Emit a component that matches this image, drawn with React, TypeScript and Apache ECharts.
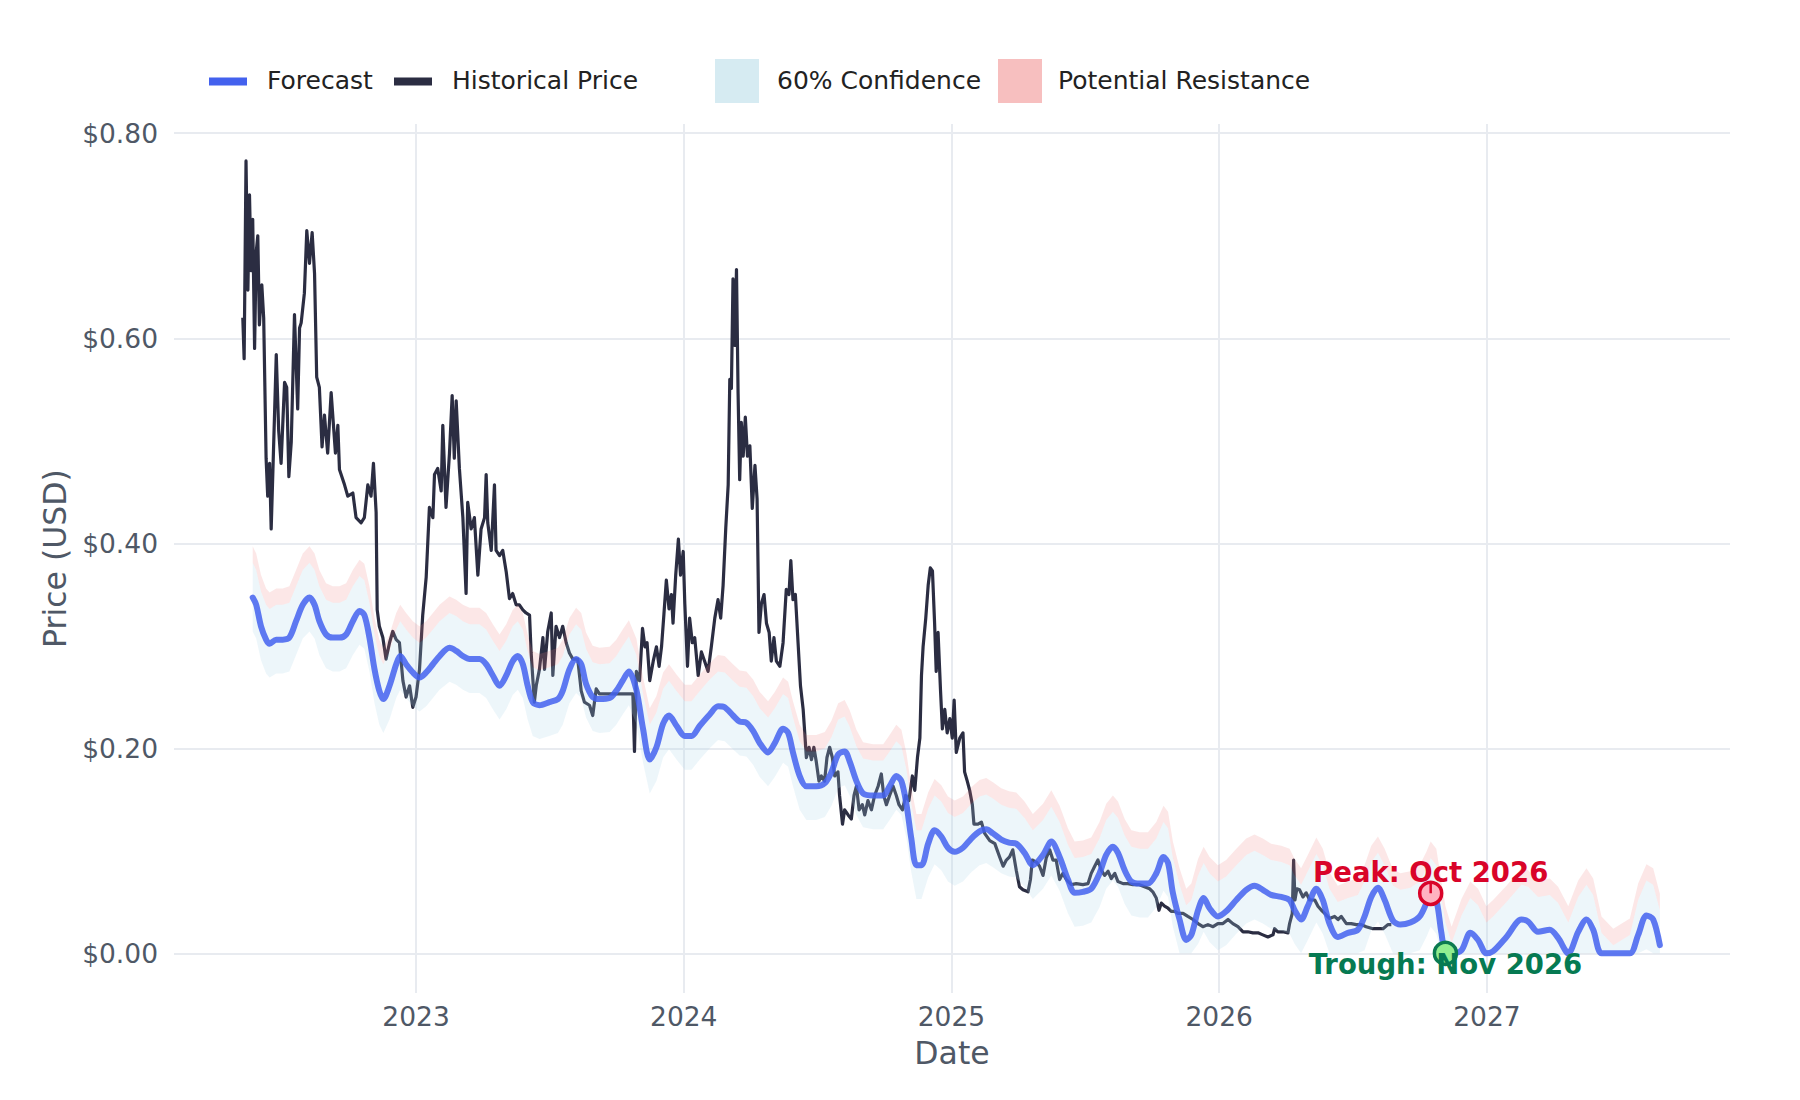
import React, { useEffect, useRef } from 'react';
import * as echarts from 'echarts';

// ---------------- Data (decimal years) ----------------
const histYears = [
  2022.353,2022.358,2022.365,2022.372,2022.378,2022.384,2022.390,2022.397,2022.403,2022.409,
  2022.415,2022.424,2022.431,2022.440,2022.446,2022.453,2022.459,2022.465,2022.478,2022.487,
  2022.496,2022.509,2022.517,2022.525,2022.534,2022.546,2022.558,2022.565,2022.571,2022.583,
  2022.592,2022.602,2022.612,2022.621,2022.629,2022.639,2022.649,2022.658,2022.670,2022.683,
  2022.699,2022.708,2022.714,2022.733,2022.745,2022.764,2022.776,2022.795,2022.807,2022.820,
  2022.832,2022.841,2022.851,2022.855,2022.863,2022.876,2022.888,2022.901,2022.913,2022.926,
  2022.938,2022.951,2022.963,2022.976,2022.988,2023.000,2023.013,2023.025,2023.038,2023.050,
  2023.063,2023.069,2023.081,2023.094,2023.100,2023.112,2023.125,2023.135,2023.143,2023.150,
  2023.162,2023.175,2023.187,2023.193,2023.206,2023.218,2023.231,2023.243,2023.256,2023.262,
  2023.268,2023.281,2023.293,2023.299,2023.312,2023.324,2023.337,2023.349,2023.361,2023.374,
  2023.386,2023.399,2023.411,2023.424,2023.430,2023.442,2023.449,2023.461,2023.474,2023.480,
  2023.492,2023.505,2023.511,2023.523,2023.536,2023.548,2023.561,2023.573,2023.586,2023.604,
  2023.617,2023.629,2023.648,2023.660,2023.673,2023.685,2023.810,2023.816,
  2023.823,2023.835,2023.846,2023.855,2023.863,2023.873,2023.886,2023.898,2023.908,2023.917,
  2023.926,2023.935,2023.945,2023.954,2023.960,2023.970,2023.980,2023.988,2023.998,2024.004,
  2024.014,2024.022,2024.032,2024.041,2024.054,2024.066,2024.078,2024.091,2024.103,2024.116,
  2024.128,2024.138,2024.147,2024.157,2024.166,2024.172,2024.178,2024.184,2024.191,2024.197,
  2024.203,2024.209,2024.215,2024.222,2024.230,2024.238,2024.247,2024.256,2024.266,2024.274,
  2024.281,2024.290,2024.300,2024.309,2024.319,2024.327,2024.337,2024.346,2024.359,2024.371,
  2024.383,2024.393,2024.400,2024.408,2024.417,2024.427,2024.436,2024.446,2024.452,2024.458,
  2024.468,2024.477,2024.486,2024.495,2024.505,2024.514,2024.526,2024.535,2024.545,2024.555,
  2024.564,2024.576,2024.582,2024.593,2024.601,2024.614,2024.626,2024.636,2024.645,2024.655,
  2024.667,2024.676,2024.688,2024.701,2024.713,2024.726,2024.738,2024.747,2024.757,2024.769,
  2024.782,2024.794,2024.804,2024.817,2024.829,2024.841,2024.854,2024.863,2024.873,2024.882,
  2024.888,2024.894,2024.904,2024.913,2024.921,2024.929,2024.937,2024.943,2024.950,2024.959,
  2024.966,2024.975,2024.984,2024.994,2025.003,2025.010,2025.018,2025.031,2025.043,2025.049,
  2025.059,2025.068,2025.078,2025.084,2025.099,2025.112,2025.124,2025.143,2025.162,
  2025.180,2025.193,2025.205,2025.217,2025.229,2025.242,2025.254,2025.267,2025.286,2025.295,
  2025.302,2025.317,2025.329,2025.342,2025.354,2025.367,2025.379,2025.391,2025.404,2025.416,
  2025.429,2025.448,2025.466,2025.491,2025.510,2025.522,2025.535,2025.547,2025.560,2025.572,
  2025.585,2025.597,2025.610,2025.622,2025.641,2025.659,2025.678,2025.702,2025.721,2025.740,
  2025.752,2025.765,2025.775,2025.784,2025.796,2025.809,2025.821,2025.834,2025.846,2025.865,
  2025.883,2025.902,2025.921,2025.939,2025.958,2025.977,2025.995,2026.014,2026.033,2026.051,
  2026.070,2026.089,2026.107,2026.126,2026.145,2026.163,2026.182,2026.201,2026.207,2026.219,
  2026.238,2026.257,2026.263,2026.273,2026.278,2026.283,2026.290,2026.300,2026.313,2026.325,
  2026.338,2026.357,2026.369,2026.382,2026.394,2026.412,2026.431,2026.444,2026.456,2026.475,
  2026.493,2026.512,2026.531,2026.549,2026.574,2026.593,2026.612,2026.630,2026.643,
];
const histPrices = [
  0.62,0.58,0.773,0.647,0.74,0.666,0.716,0.59,0.684,0.70,
  0.613,0.652,0.62,0.483,0.446,0.478,0.414,0.467,0.584,0.51,
  0.478,0.557,0.552,0.465,0.499,0.623,0.531,0.61,0.615,0.644,
  0.705,0.673,0.703,0.663,0.562,0.552,0.494,0.525,0.488,0.547,
  0.488,0.515,0.472,0.457,0.446,0.449,0.425,0.42,0.425,0.457,
  0.446,0.478,0.43,0.335,0.319,0.308,0.287,0.303,0.314,0.306,
  0.303,0.266,0.25,0.261,0.24,0.25,0.277,0.33,0.367,0.435,
  0.425,0.467,0.473,0.451,0.515,0.435,0.488,0.544,0.483,0.539,
  0.473,0.425,0.351,0.44,0.414,0.425,0.369,0.414,0.425,0.467,
  0.42,0.393,0.457,0.393,0.388,0.393,0.372,0.346,0.351,0.34,
  0.34,0.335,0.332,0.33,0.293,0.245,0.261,0.277,0.308,0.277,
  0.314,0.332,0.271,0.319,0.308,0.319,0.303,0.293,0.287,0.287,
  0.256,0.245,0.242,0.232,0.258,0.253,0.253,0.197,
  0.275,0.266,0.317,0.299,0.303,0.266,0.285,0.299,0.28,0.299,
  0.331,0.364,0.336,0.35,0.322,0.369,0.404,0.369,0.392,0.341,
  0.28,0.327,0.303,0.308,0.271,0.294,0.285,0.275,0.299,0.327,
  0.345,0.327,0.359,0.415,0.457,0.56,0.551,0.658,0.593,0.667,
  0.546,0.462,0.518,0.485,0.523,0.485,0.495,0.434,0.476,0.443,
  0.313,0.341,0.35,0.322,0.313,0.285,0.308,0.285,0.28,0.303,
  0.355,0.35,0.383,0.345,0.35,0.303,0.261,0.238,0.215,0.191,
  0.201,0.189,0.201,0.187,0.168,0.173,0.168,0.191,0.201,0.191,
  0.173,0.177,0.154,0.126,0.14,0.135,0.131,0.154,0.163,0.14,
  0.145,0.135,0.149,0.14,0.154,0.163,0.175,0.154,0.145,0.154,
  0.163,0.154,0.145,0.14,0.154,0.149,0.173,0.159,0.191,0.21,
  0.271,0.299,0.327,0.359,0.376,0.373,0.322,0.275,0.313,0.257,
  0.219,0.238,0.215,0.229,0.21,0.247,0.196,0.21,0.215,0.177,
  0.168,0.159,0.145,0.126,0.126,0.128,0.117,0.11,0.107,
  0.094,0.085,0.091,0.094,0.101,0.081,0.065,0.062,0.06,0.072,
  0.091,0.089,0.085,0.076,0.093,0.101,0.091,0.091,0.072,0.078,
  0.072,0.067,0.068,0.067,0.068,0.078,0.085,0.091,0.081,0.076,
  0.08,0.073,0.078,0.07,0.068,0.068,0.067,0.067,0.065,0.063,
  0.06,0.054,0.042,0.049,0.046,0.044,0.041,0.041,0.039,0.039,
  0.036,0.033,0.029,0.026,0.028,0.026,0.029,0.029,0.033,0.029,
  0.026,0.021,0.021,0.02,0.02,0.018,0.016,0.018,0.024,0.021,
  0.021,0.02,0.029,0.039,0.091,0.052,0.063,0.062,0.055,0.059,
  0.052,0.052,0.046,0.042,0.039,0.034,0.036,0.033,0.036,0.029,
  0.029,0.028,0.028,0.026,0.024,0.024,0.024,0.028,0.028,
];

const fcYears = [
  2022.390,2022.403,2022.421,2022.440,2022.453,2022.478,2022.502,2022.527,2022.552,2022.577,
  2022.602,2022.621,2022.639,2022.664,2022.689,2022.714,2022.739,2022.764,2022.789,2022.807,
  2022.826,2022.845,2022.863,2022.878,2022.901,2022.926,2022.941,2022.963,2022.988,2023.013,
  2023.038,2023.063,2023.088,2023.125,2023.150,2023.175,2023.200,2023.237,2023.262,2023.287,
  2023.312,2023.337,2023.361,2023.380,2023.399,2023.417,2023.436,2023.461,2023.498,2023.530,
  2023.548,2023.573,2023.598,2023.617,2023.635,2023.660,2023.685,2023.723,2023.748,2023.772,
  2023.795,2023.823,2023.848,2023.873,2023.898,2023.923,2023.945,2023.973,2024.004,2024.029,
  2024.060,2024.097,2024.128,2024.153,2024.184,2024.209,2024.234,2024.259,2024.284,2024.315,
  2024.340,2024.371,2024.390,2024.408,2024.433,2024.458,2024.495,2024.527,2024.552,2024.577,
  2024.601,2024.620,2024.645,2024.670,2024.707,2024.745,2024.769,2024.794,2024.813,2024.832,
  2024.850,2024.869,2024.888,2024.913,2024.937,2024.962,2024.987,2025.012,2025.043,2025.074,
  2025.105,2025.130,2025.155,2025.186,2025.215,2025.242,2025.273,2025.304,2025.342,2025.373,
  2025.404,2025.435,2025.460,2025.491,2025.522,2025.553,2025.578,2025.603,2025.622,2025.647,
  2025.672,2025.703,2025.734,2025.765,2025.792,2025.809,2025.827,2025.852,2025.877,2025.896,
  2025.921,2025.942,2025.964,2025.995,2026.026,2026.064,2026.101,2026.132,2026.163,2026.194,
  2026.232,2026.263,2026.282,2026.306,2026.331,2026.363,2026.387,2026.412,2026.443,2026.481,
  2026.518,2026.543,2026.568,2026.593,2026.618,2026.649,2026.677,2026.714,2026.749,2026.774,
  2026.790,2026.811,2026.830,2026.845,2026.868,2026.905,2026.938,2026.967,2026.998,2027.023,
  2027.073,2027.129,2027.154,2027.191,2027.235,2027.266,2027.304,2027.341,2027.372,2027.397,
  2027.428,2027.472,2027.534,2027.565,2027.596,2027.621,2027.646,
];
const fcPrices = [
  0.347,0.340,0.319,0.306,0.302,0.306,0.306,0.308,0.324,0.340,
  0.347,0.340,0.324,0.311,0.308,0.308,0.311,0.324,0.334,0.330,
  0.308,0.277,0.256,0.248,0.261,0.282,0.290,0.282,0.274,0.269,
  0.274,0.282,0.290,0.298,0.295,0.290,0.287,0.287,0.282,0.271,
  0.261,0.271,0.285,0.290,0.282,0.261,0.245,0.242,0.245,0.248,
  0.256,0.277,0.287,0.282,0.263,0.250,0.248,0.249,0.256,0.266,
  0.275,0.257,0.219,0.189,0.201,0.224,0.232,0.222,0.212,0.212,
  0.222,0.233,0.241,0.240,0.232,0.226,0.225,0.217,0.205,0.196,
  0.205,0.219,0.215,0.196,0.173,0.163,0.163,0.166,0.177,0.194,
  0.197,0.187,0.168,0.156,0.154,0.154,0.163,0.173,0.168,0.145,
  0.112,0.086,0.086,0.107,0.120,0.114,0.103,0.099,0.103,0.112,
  0.119,0.121,0.117,0.111,0.108,0.107,0.098,0.086,0.096,0.109,
  0.094,0.072,0.059,0.060,0.063,0.078,0.096,0.104,0.098,0.081,
  0.070,0.068,0.068,0.078,0.094,0.088,0.059,0.033,0.013,0.018,
  0.042,0.054,0.044,0.036,0.041,0.052,0.062,0.066,0.062,0.057,
  0.055,0.052,0.042,0.033,0.046,0.063,0.052,0.029,0.016,0.020,
  0.023,0.036,0.055,0.064,0.052,0.032,0.028,0.030,0.036,0.049,
  0.059,0.052,0.020,0.001,0.000,0.003,0.020,0.013,0.000,0.002,
  0.016,0.033,0.031,0.021,0.023,0.015,0.000,0.021,0.033,0.023,
  0.000,0.000,0.000,0.018,0.037,0.033,0.008,
];
const confLow = [
  0.314,0.307,0.286,0.273,0.269,0.273,0.273,0.275,0.291,0.307,
  0.314,0.307,0.291,0.278,0.275,0.275,0.278,0.291,0.301,0.297,
  0.275,0.244,0.223,0.215,0.228,0.249,0.257,0.249,0.241,0.236,
  0.241,0.249,0.257,0.265,0.262,0.257,0.254,0.254,0.249,0.238,
  0.228,0.238,0.252,0.257,0.249,0.228,0.212,0.209,0.212,0.215,
  0.223,0.244,0.254,0.249,0.230,0.217,0.215,0.216,0.223,0.233,
  0.242,0.224,0.186,0.156,0.168,0.191,0.199,0.189,0.179,0.179,
  0.189,0.200,0.208,0.207,0.199,0.193,0.192,0.184,0.172,0.163,
  0.172,0.186,0.182,0.163,0.140,0.130,0.130,0.133,0.144,0.161,
  0.164,0.154,0.135,0.123,0.121,0.121,0.130,0.140,0.135,0.112,
  0.079,0.053,0.053,0.074,0.087,0.081,0.070,0.066,0.070,0.079,
  0.086,0.088,0.084,0.078,0.075,0.074,0.065,0.053,0.063,0.076,
  0.061,0.039,0.026,0.027,0.030,0.045,0.063,0.071,0.065,0.048,
  0.037,0.035,0.035,0.045,0.061,0.055,0.026,0.000,0.000,0.000,
  0.009,0.021,0.011,0.003,0.008,0.019,0.029,0.033,0.029,0.024,
  0.022,0.019,0.009,0.000,0.013,0.030,0.019,0.000,0.000,0.000,
  0.000,0.003,0.022,0.031,0.019,0.000,0.000,0.000,0.003,0.016,
  0.026,0.019,0.000,0.000,0.000,0.000,0.000,0.000,0.000,0.000,
  0.000,0.000,0.000,0.000,0.000,0.000,0.000,0.000,0.000,0.000,
  0.000,0.000,0.000,0.000,0.004,0.000,0.000,
];
const confHigh = [
  0.381,0.374,0.353,0.340,0.336,0.340,0.340,0.342,0.358,0.374,
  0.381,0.374,0.358,0.345,0.342,0.342,0.345,0.358,0.368,0.364,
  0.342,0.311,0.290,0.282,0.295,0.316,0.324,0.316,0.308,0.303,
  0.308,0.316,0.324,0.332,0.329,0.324,0.321,0.321,0.316,0.305,
  0.295,0.305,0.319,0.324,0.316,0.295,0.279,0.276,0.279,0.282,
  0.290,0.311,0.321,0.316,0.297,0.284,0.282,0.283,0.290,0.300,
  0.309,0.291,0.253,0.223,0.235,0.258,0.266,0.256,0.246,0.246,
  0.256,0.267,0.275,0.274,0.266,0.260,0.259,0.251,0.239,0.230,
  0.239,0.253,0.249,0.230,0.207,0.197,0.197,0.200,0.211,0.228,
  0.231,0.221,0.202,0.190,0.188,0.188,0.197,0.207,0.202,0.179,
  0.146,0.120,0.120,0.141,0.154,0.148,0.137,0.133,0.137,0.146,
  0.153,0.155,0.151,0.145,0.142,0.141,0.132,0.120,0.130,0.143,
  0.128,0.106,0.093,0.094,0.097,0.112,0.130,0.138,0.132,0.115,
  0.104,0.102,0.102,0.112,0.128,0.122,0.093,0.067,0.047,0.052,
  0.076,0.088,0.078,0.070,0.075,0.086,0.096,0.100,0.096,0.091,
  0.089,0.086,0.076,0.067,0.080,0.097,0.086,0.063,0.050,0.054,
  0.057,0.070,0.089,0.098,0.086,0.066,0.062,0.064,0.070,0.083,
  0.093,0.086,0.054,0.030,0.010,0.037,0.054,0.047,0.030,0.036,
  0.050,0.067,0.065,0.055,0.057,0.049,0.030,0.055,0.067,0.057,
  0.020,0.008,0.018,0.052,0.071,0.067,0.042,
];
const resistHigh = [
  0.397,0.390,0.369,0.356,0.352,0.356,0.356,0.358,0.374,0.390,
  0.397,0.390,0.374,0.361,0.358,0.358,0.361,0.374,0.384,0.380,
  0.358,0.327,0.306,0.298,0.311,0.332,0.340,0.332,0.324,0.319,
  0.324,0.332,0.340,0.348,0.345,0.340,0.337,0.337,0.332,0.321,
  0.311,0.321,0.335,0.340,0.332,0.311,0.295,0.292,0.295,0.298,
  0.306,0.327,0.337,0.332,0.313,0.300,0.298,0.299,0.306,0.316,
  0.325,0.307,0.269,0.239,0.251,0.274,0.282,0.272,0.262,0.262,
  0.272,0.283,0.291,0.290,0.282,0.276,0.275,0.267,0.255,0.246,
  0.255,0.269,0.265,0.246,0.223,0.213,0.213,0.216,0.227,0.244,
  0.247,0.237,0.218,0.206,0.204,0.204,0.213,0.223,0.218,0.195,
  0.162,0.136,0.136,0.157,0.170,0.164,0.153,0.149,0.153,0.162,
  0.169,0.171,0.167,0.161,0.158,0.157,0.148,0.136,0.146,0.159,
  0.144,0.122,0.109,0.110,0.113,0.128,0.146,0.154,0.148,0.131,
  0.120,0.118,0.118,0.128,0.144,0.138,0.109,0.083,0.063,0.068,
  0.092,0.104,0.094,0.086,0.091,0.102,0.112,0.116,0.112,0.107,
  0.105,0.102,0.092,0.083,0.096,0.113,0.102,0.079,0.066,0.070,
  0.073,0.086,0.105,0.114,0.102,0.082,0.078,0.080,0.086,0.099,
  0.109,0.102,0.070,0.046,0.026,0.053,0.070,0.063,0.046,0.052,
  0.066,0.083,0.081,0.071,0.073,0.065,0.046,0.071,0.083,0.073,
  0.036,0.024,0.034,0.068,0.087,0.083,0.058,
];

const peakPoint = [2026.790, 0.0585];
const troughPoint = [2026.845, 0.0];
const peakLabel = 'Peak: Oct 2026';
const troughLabel = 'Trough: Nov 2026';
const legendNames = ['Forecast', 'Historical Price', '60% Confidence', 'Potential Resistance'];

const FONT = 'DejaVu Sans';
const AXIS_COLOR = '#4f5866';
const CONF_FILL = 'rgba(173,216,230,0.22)';
const RES_FILL = 'rgba(240,128,128,0.19)';

export default function App() {
  const ref = useRef<HTMLDivElement>(null);

  useEffect(() => {
    if (!ref.current) return;
    const chart = echarts.init(ref.current, null, { renderer: 'svg' });

    const hist = histYears.map((x, i) => [x, histPrices[i]]);
    const fc = fcYears.map((x, i) => [x, fcPrices[i]]);

    const renderBands = (params: any, api: any) => {
      if (params.dataIndex !== 0) return null;
      const lo = fcYears.map((x, i) => api.coord([x, confLow[i]]));
      const hi = fcYears.map((x, i) => api.coord([x, confHigh[i]]));
      const rs = fcYears.map((x, i) => api.coord([x, resistHigh[i]]));
      return {
        type: 'group',
        children: [
          { type: 'polygon', shape: { points: lo.concat(hi.slice().reverse()) }, style: { fill: CONF_FILL } },
          { type: 'polygon', shape: { points: hi.concat(rs.slice().reverse()) }, style: { fill: RES_FILL } },
        ],
      };
    };

    const legendText = (x: number, text: string) => ({
      type: 'text', left: x, top: 82 - 14.5,
      style: { text, x: 0, y: 0, fontSize: 25, fontFamily: FONT, fill: '#222222', textVerticalAlign: 'top' },
    });

    const option: any = {
      animation: false,
      backgroundColor: '#ffffff',
      grid: { left: 174, right: 70, top: 124, bottom: 107, containLabel: false, outerBoundsMode: 'none' },
      xAxis: {
        type: 'value',
        min: 2022.096,
        max: 2027.908,
        name: 'Date',
        nameLocation: 'middle',
        nameGap: 44,
        nameTextStyle: { fontSize: 31.5, color: AXIS_COLOR, fontFamily: FONT },
        axisLine: { show: false },
        axisTick: { show: false },
        axisLabel: {
          fontSize: 26.5, color: AXIS_COLOR, fontFamily: FONT, margin: 10,
          showMinLabel: false, showMaxLabel: false,
          formatter: (v: number) => String(Math.round(v)),
        },
        splitLine: { show: true, showMinLine: false, showMaxLine: false, lineStyle: { color: '#e8ebf0', width: 2 } },
      },
      yAxis: {
        type: 'value',
        min: -0.0387,
        max: 0.809,
        name: 'Price (USD)',
        nameLocation: 'middle',
        nameGap: 103,
        nameTextStyle: { fontSize: 31.5, color: AXIS_COLOR, fontFamily: FONT },
        axisLine: { show: false },
        axisTick: { show: false },
        axisLabel: {
          fontSize: 26.5, color: AXIS_COLOR, fontFamily: FONT, margin: 16,
          showMinLabel: false, showMaxLabel: false,
          formatter: (v: number) => '$' + v.toFixed(2),
        },
        splitLine: { show: true, showMinLine: false, showMaxLine: false, lineStyle: { color: '#e8ebf0', width: 2 } },
      },
      series: [
        {
          name: legendNames[1], type: 'line', data: hist, showSymbol: false, symbol: 'none',
          lineStyle: { color: '#2b2d42', width: 3.2, join: 'round' }, z: 2,
        },
        {
          name: 'bands', type: 'custom', renderItem: renderBands, data: [fc[0]],
          encode: { x: 0, y: 1 }, clip: true, silent: true, z: 3,
        },
        {
          name: legendNames[0], type: 'line', data: fc, showSymbol: false, symbol: 'none', smooth: 0.3,
          lineStyle: { color: '#4361ee', width: 6, opacity: 0.85, join: 'round', cap: 'round' }, z: 4,
        },
        {
          name: 'peakArrow', type: 'line', data: [peakPoint, [peakPoint[0], peakPoint[1] + 0.011]],
          showSymbol: false, symbol: 'none', lineStyle: { color: '#d90429', width: 2.5 }, z: 7,
        },
        {
          name: 'Peak', type: 'scatter', data: [peakPoint], symbol: 'circle', symbolSize: 22,
          itemStyle: { color: '#ffb3c1', borderColor: '#d90429', borderWidth: 3.5, opacity: 1 },
          label: {
            show: true, position: 'inside', offset: [0, -21], formatter: peakLabel,
            fontSize: 27.5, fontWeight: 'bold', fontFamily: FONT, color: '#d90429',
          },
          z: 6,
        },
        {
          name: 'Trough', type: 'scatter', data: [troughPoint], symbol: 'circle', symbolSize: 22,
          itemStyle: { color: '#90ee90', borderColor: '#0b7a50', borderWidth: 3.5, opacity: 1 },
          label: {
            show: true, position: 'inside', offset: [0, 11], formatter: troughLabel,
            fontSize: 27.5, fontWeight: 'bold', fontFamily: FONT, color: '#067a52',
          },
          z: 6,
        },
      ],
      graphic: [
        { type: 'rect', left: 209, top: 77.5, shape: { width: 38, height: 8 }, style: { fill: '#4361ee' } },
        legendText(267, legendNames[0]),
        { type: 'rect', left: 394, top: 77.5, shape: { width: 38, height: 8 }, style: { fill: '#2b2d42' } },
        legendText(452, legendNames[1]),
        { type: 'rect', left: 715, top: 59, shape: { width: 44, height: 44 }, style: { fill: 'rgba(173,216,230,0.5)' } },
        legendText(777, legendNames[2]),
        { type: 'rect', left: 998, top: 59, shape: { width: 44, height: 44 }, style: { fill: 'rgba(240,128,128,0.5)' } },
        legendText(1058, legendNames[3]),
      ],
    };

    chart.setOption(option);
    return () => chart.dispose();
  }, []);

  return (
    <div
      ref={ref}
      style={{ position: 'fixed', left: 0, top: 0, width: 1800, height: 1100, background: '#ffffff' }}
    />
  );
}
